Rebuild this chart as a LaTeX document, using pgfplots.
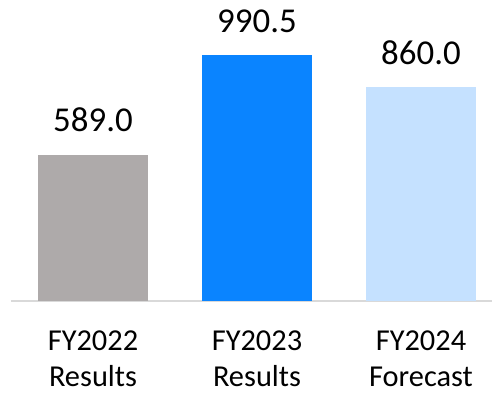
\documentclass[border=0pt]{standalone}
\usepackage{fontspec}
\setmainfont{Carlito}
\usepackage{pgfplots}
\pgfplotsset{compat=1.18}

\definecolor{resgray}{RGB}{174,170,170}
\definecolor{resblue}{RGB}{10,132,255}
\definecolor{fclight}{RGB}{197,225,255}
\definecolor{baseln}{RGB}{217,217,217}

\begin{document}
\begin{tikzpicture}
\begin{axis}[
    x=164bp, y=0.2484bp,
    xmin=-0.5, xmax=2.433,
    ymin=0, ymax=1100,
    axis x line*=bottom,
    axis y line=none,
    x axis line style={draw=baseln, line width=1.5bp, -},
    xtick={0,1,2},
    xticklabels={FY2022\\Results, FY2023\\Results, FY2024\\Forecast},
    major tick length=0pt,
    xticklabel style={align=center, font=\fontsize{30.5}{36}\selectfont, text=black, inner sep=0pt, anchor=north, yshift=-30bp},
    ybar, bar width=110bp, bar shift=0pt,
    nodes near coords={\pgfmathprintnumber[fixed,fixed zerofill,precision=1,assume math mode=true]{\pgfplotspointmeta}},
    every node near coord/.append style={font=\fontsize{35}{42}\selectfont, text=black, inner sep=0pt, anchor=base, yshift=23bp},
    clip=false,
]
\addplot[fill=resgray, draw=none] coordinates {(0,589.0)};
\addplot[fill=resblue, draw=none] coordinates {(1,990.5)};
\addplot[fill=fclight, draw=none] coordinates {(2,860.0)};
\coordinate (bbsw) at (axis cs:-0.567,-386.5);
\coordinate (bbne) at (axis cs:2.433,1212);
\end{axis}
\pgfresetboundingbox
\path[use as bounding box] (bbsw) rectangle (bbne);
\end{tikzpicture}
\end{document}
